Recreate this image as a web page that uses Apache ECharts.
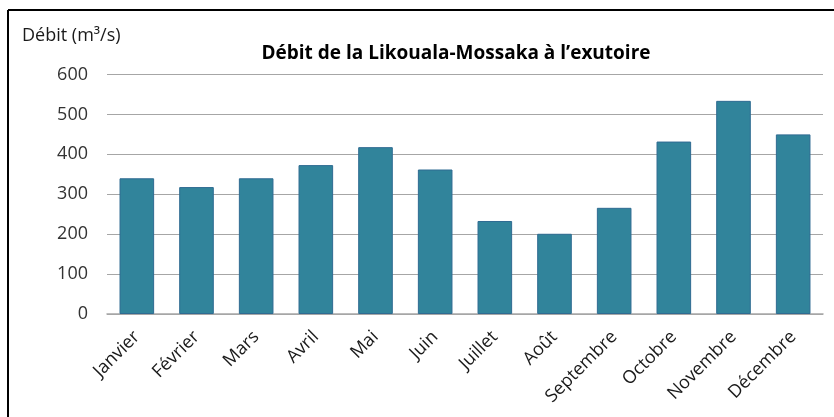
<!DOCTYPE html>
<html>
<head>
<meta charset="utf-8">
<script src="https://cdn.jsdelivr.net/npm/echarts@6/dist/echarts.min.js"></script>
<style>
  html, body { margin: 0; padding: 0; background: #fff; }
  #chart { width: 834px; height: 417px; }
</style>
</head>
<body>
<div id="chart"></div>
<script>
// mois et débits moyens (m3/s)
const months = ['Janvier', 'Février', 'Mars', 'Avril', 'Mai', 'Juin', 'Juillet', 'Août', 'Septembre', 'Octobre', 'Novembre', 'Décembre']
const debits = [340, 318, 340, 373, 418, 362, 233, 201, 266, 432, 534, 450]
const yTicks = [0, 100, 200, 300, 400, 500, 600]

const font = '"Open Sans", "Noto Sans", sans-serif'
const chart = echarts.init(document.getElementById('chart'))

chart.setOption({
  animation: false,
  textStyle: { fontFamily: font },
  title: {
    text: 'Débit de la Likouala-Mossaka à l\u2019exutoire',
    left: 451,
    top: 39,
    textAlign: 'center',
    textStyle: { fontSize: 19, fontWeight: 'bold', color: '#000', fontFamily: font }
  },
  grid: { left: 107, right: 11, top: 74.5, bottom: 103, containLabel: false },
  xAxis: {
    type: 'category',
    data: months,
    axisLine: { lineStyle: { color: '#a6a6a6', width: 1.5 } },
    axisTick: { show: false },
    axisLabel: { rotate: 45, fontSize: 18, color: '#1a1a1a', margin: 20, interval: 0 }
  },
  yAxis: {
    type: 'value',
    name: 'Débit (m³/s)',
    nameLocation: 'end',
    nameGap: 30,
    nameTextStyle: { fontSize: 18, color: '#1a1a1a', align: 'left', padding: [0, 0, 0, -85] },
    min: yTicks[0],
    max: yTicks[yTicks.length - 1],
    interval: 100,
    axisLine: { show: false },
    axisTick: { show: false },
    axisLabel: { fontSize: 18, color: '#333', margin: 19 },
    splitLine: { lineStyle: { color: '#a6a6a6', width: 1.2 } }
  },
  series: [{
    type: 'bar',
    data: debits,
    barWidth: '58%',
    itemStyle: { color: '#31849b', borderColor: '#2f6b92', borderWidth: 1 }
  }],
  graphic: [
    { type: 'line', shape: { x1: 8, y1: 10, x2: 834, y2: 10 }, style: { stroke: '#000', lineWidth: 2 } },
    { type: 'line', shape: { x1: 8, y1: 10, x2: 8, y2: 417 }, style: { stroke: '#000', lineWidth: 2 } }
  ]
})
</script>
</body>
</html>
